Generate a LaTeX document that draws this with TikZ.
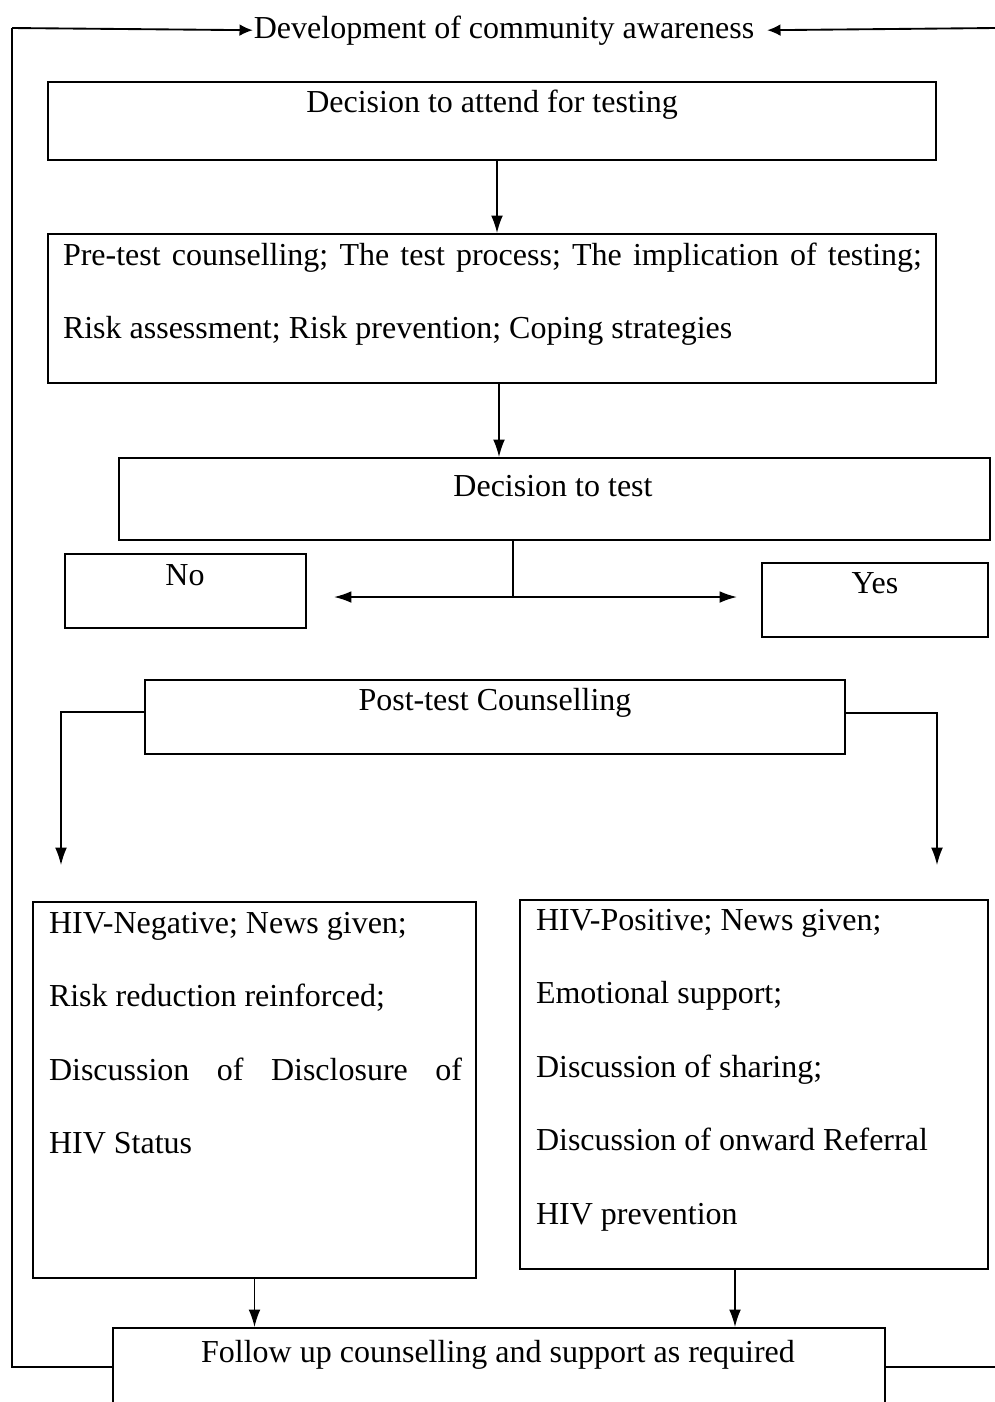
\documentclass[tikz,border=0pt]{standalone}
\usepackage{fontspec}
\setmainfont{Liberation Serif}
\usetikzlibrary{arrows.meta,positioning}
\frenchspacing
\newdimen\px \px=0.375pt
\tikzset{every picture/.style={line width=0.75pt}}
\tikzset{
	box/.style={draw, line width=0.8pt, rectangle, inner sep=0pt},
	txt/.style={font=\fontsize{12}{27.6}\selectfont, inner sep=0pt, anchor=base},
	para/.style={txt, anchor=base west, align=flush left},
	arr/.style={line width=0.5pt, -{Latex[length=6.5pt,width=4.4pt]}},
	loopline/.style={line width=0.7pt},
	looparr/.style={line width=0.7pt, -{Latex[length=5pt,width=4.4pt]}}}

\begin{document}
\begin{tikzpicture}[x=0.375pt,y=0.375pt,yscale=-1,xscale=1]
	\useasboundingbox (0,0) rectangle (995,1402);
	\clip (0,0) rectangle (995,1402);

	%Shape: Rectangles
	\node[box, minimum width=888\px, minimum height=78\px] (attend) at (492,121) {};
	\node[box, minimum width=888\px, minimum height=149\px] (pre) at (492,308.5) {};
	\node[box, minimum width=871\px, minimum height=82\px] (dtest) at (554.5,499) {};
	\node[box, minimum width=241\px, minimum height=74\px] (no) at (185.5,591) {};
	\node[box, minimum width=226\px, minimum height=74\px] (yes) at (875,600) {};
	\node[box, minimum width=700\px, minimum height=74\px] (post) at (495,717) {};
	\node[box, minimum width=443\px, minimum height=376\px] (neg) at (254.5,1090) {};
	\node[box, minimum width=468\px, minimum height=369\px] (pos) at (754,1084.5) {};
	\node[box, minimum width=772\px, minimum height=100\px] (follow) at (499,1378) {};

	% Text Node
	\node[txt, inner xsep=0pt] (dev) at (504,38) {Development of community awareness};
	\node[txt] (attendtxt) at (492,112) {Decision to attend for testing};
	\node[para, text width=859\px] (pretxt) at (62,265)
		{\makebox[\linewidth][s]{Pre-test counselling; The test process; The implication of testing;}\\
		Risk assessment; Risk prevention; Coping strategies};
	\node[txt] (dtesttxt) at (553,496) {Decision to test};
	\node[txt] (notxt) at (185,585) {No};
	\node[txt] (yestxt) at (875,593) {Yes};
	\node[txt] (posttxt) at (495,710) {Post-test Counselling};
	\node[para, text width=413\px] (negtxt) at (48,933)
		{HIV-Negative; News given;\\
		Risk reduction reinforced;\\
		\makebox[\linewidth][s]{Discussion of Disclosure of}\\
		HIV Status};
	\node[para, text width=440\px] (postxt) at (535,930)
		{HIV-Positive; News given;\\
		Emotional support;\\
		Discussion of sharing;\\
		Discussion of onward Referral\\
		HIV prevention};
	\node[txt] (followtxt) at (498,1362) {Follow up counselling and support as required};

	%Coordinates
	\coordinate (split) at (513,597);
	\coordinate (negtip) at (61,865);
	\coordinate (postip) at (937,865);
	\coordinate (tl) at (12,28);
	\coordinate (tr) at (995,28);
	\coordinate (bl) at (12,1367);
	\coordinate (br) at (995,1367);

	%Straight Lines
	\draw[arr] ([xshift=5\px]attend.south) -- ([xshift=5\px]pre.north);
	\draw[arr] ([xshift=7\px]pre.south) -- ([xshift=7\px]pre.south |- dtest.north);
	\draw (dtest.south -| split) -- (split);
	\draw[line width=0.6pt, {Latex[length=6.5pt,width=4.4pt]}-{Latex[length=6.5pt,width=4.4pt]}]
		([xshift=27\px]no.east |- split) -- ([xshift=-24\px]yes.west |- split);
	\draw[arr] ([yshift=-5\px]post.west) -| (negtip);
	\draw[arr] ([yshift=-4\px]post.east) -| (postip);
	\draw[arr] (neg.south) -- (neg.south |- follow.north);
	\draw[arr] (pos.south -| 735,0) -- (follow.north -| 735,0);

	%Outer loop
	\draw[looparr] (tl) -- (dev.west);
	\draw[looparr] (tr) -- ([xshift=12\px]dev.east);
	\draw[loopline] (tl) -- (bl) -- (bl -| follow.west);
	\draw[loopline] (follow.east |- br) -- (br);

\end{tikzpicture}
\end{document}
